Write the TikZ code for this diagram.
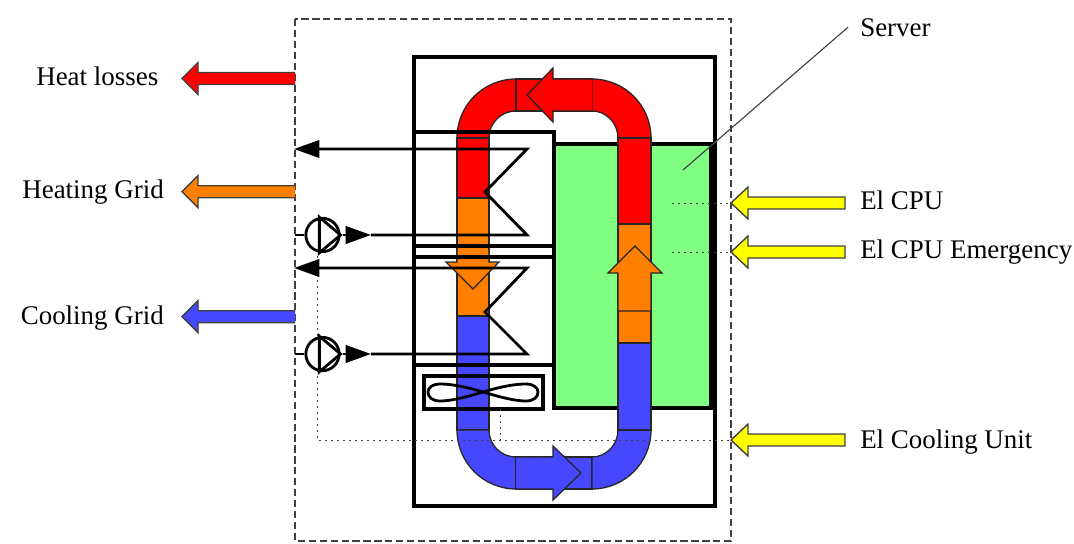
\documentclass[tikz,border=0pt]{standalone}
\usepackage{fontspec}
\setmainfont{Liberation Serif}
\usepackage{tikz}
\usetikzlibrary{arrows.meta,calc}
\definecolor{ductred}{HTML}{FF0000}
\definecolor{ductorange}{HTML}{FF8000}
\definecolor{ductblue}{HTML}{4747FF}
\definecolor{servergreen}{HTML}{80FF80}
\definecolor{elyellow}{HTML}{FFFF00}
\definecolor{linegrey}{HTML}{404040}

\begin{document}
\begin{tikzpicture}[
    x=0.75pt, y=-0.75pt,
    label/.style={inner sep=0pt, font=\fontsize{20.2}{24}\selectfont},
    frame/.style={draw=linegrey, line width=0.8pt, dash pattern=on 5.4pt off 2.8pt},
    wall/.style={draw=black, line width=2.3pt},
    duct/.style={draw=black!85, line width=0.95pt},
    flow/.style={draw=linegrey, line width=1.05pt},
    pipe/.style={draw=black, line width=2.1pt},
    pipetip/.style={-{Triangle[length=19pt, width=13pt]}, draw=black, line width=2.1pt},
    pump/.style={circle, draw=black, line width=2.1pt, fill=white, minimum size=25pt, inner sep=0pt},
    signal/.style={draw=linegrey, line width=0.75pt, dash pattern=on 1.5pt off 3pt},
    leader/.style={draw=linegrey, line width=0.85pt}
]
    \useasboundingbox (0,0) rectangle (1074,543);

    \draw[frame] (295,19) rectangle (731,541);
    \draw[wall] (414,57) rectangle (715,506);
    \draw[wall, fill=servergreen] (554,144) rectangle (711,408);

    % ducts
    \draw[duct, fill=ductred] (457,138) .. controls (457,105.4) and (483.4,79) .. (516,79) -- (516,111) .. controls (501,111) and (489,123) .. (489,138) -- cycle;
    \draw[duct, fill=ductred] (516,79) rectangle (592,111);
    \draw[duct, fill=ductred] (592,79) .. controls (624.6,79) and (651,105.4) .. (651,138) -- (618,138) .. controls (618,123) and (606,111) .. (592,111) -- cycle;
    \draw[duct, fill=ductred] (457,138) rectangle (489,198);
    \draw[duct, fill=ductorange] (457,198) rectangle (489,316);
    \draw[duct, fill=ductblue] (457,316) rectangle (489,430);
    \draw[duct, fill=ductblue] (457,430) .. controls (457,462.6) and (483.4,489) .. (516,489) -- (516,457) .. controls (501,457) and (489,445) .. (489,430) -- cycle;
    \draw[duct, fill=ductblue] (516,457) rectangle (592,489);
    \draw[duct, fill=ductblue] (592,489) .. controls (624.6,489) and (651,462.6) .. (651,430) -- (618,430) .. controls (618,445) and (606,457) .. (592,457) -- cycle;
    \draw[duct, fill=ductblue] (618,343) rectangle (651,430);
    \draw[duct, fill=ductorange] (618,224) rectangle (651,343);
    \draw[duct, fill=ductred] (618,138) rectangle (651,224);

    \draw[duct, fill=ductred] (592,111) -- (553,111) -- (553,122) -- (527,95) -- (553,68) -- (553,79) -- (592,79);
    \draw[duct, fill=ductblue] (516,457) -- (553,457) -- (553,446) -- (581,473) -- (553,500) -- (553,489) -- (516,489);
    \draw[duct, fill=ductorange] (618,311) -- (618,273) -- (608,273) -- (635,246) -- (662,273) -- (651,273) -- (651,311) -- cycle;
    \draw[duct, fill=ductorange] (457,250) -- (457,262) -- (446,262) -- (473,289) -- (499,262) -- (489,262) -- (489,250);

    \draw[wall] (414,132) rectangle (554,246);
    \draw[wall] (414,257) rectangle (554,365);
    \draw[wall] (424,376) rectangle (543,409);
    \draw[pipe] (483,392) .. controls (503,386) and (516,384) .. (526,384) .. controls (534,384) and (538,388) .. (538,392) .. controls (538,397) and (534,401) .. (526,401) .. controls (516,401) and (503,398) .. (483,392) .. controls (463,386) and (450,384) .. (440,384) .. controls (432,384) and (428,388) .. (428,392) .. controls (428,397) and (432,401) .. (440,401) .. controls (450,401) and (463,398) .. (483,392) -- cycle;

    \coordinate (cpu) at (731,203);
    \coordinate (emergency) at (731,252);
    \coordinate (coolunit) at (731,440);
    \draw[signal] (672,203) -- (cpu);
    \draw[signal] (672,252) -- (emergency);
    \draw[signal] (317,250) -- (317,440) -- (coolunit);
    \draw[signal] (500,409) -- (500,440);

    \foreach \i/\ya/\yb/\yc in {1/149/192/235, 2/268/312/354} {
        \coordinate (hot\i) at (294,\ya);
        \coordinate (cold\i) at (295,\yc);
        \coordinate (base\i) at (343,\yc);
        \coordinate (tip\i) at (371,\yc);
        \node[pump] (pump\i) at (322.5,\yc) {};
        \draw[pipe] (cold\i) -- (pump\i.west);
        \draw[pipe] (pump\i.100) -- (pump\i.260) -- (pump\i.east) -- cycle;
        \draw[pipetip] (base\i) -- (tip\i);
        \draw[pipetip] (tip\i) -- (527,\yc) -- (485,\yb) -- (527,\ya) -- (hot\i);
    }

    \foreach \y/\col in {78.5/ductred, 191.7/ductorange, 316.7/ductblue} {
        \draw[flow, fill=\col] (295,\y-6) -- (198,\y-6) -- (198,\y-16) -- (182,\y) -- (198,\y+16) -- (198,\y+6) -- (295,\y+6);
    }
    \foreach \y in {203,252,440} {
        \draw[flow, fill=elyellow] (731,\y) -- (748,\y-16) -- (748,\y-6) -- (845,\y-6) -- (845,\y+6) -- (748,\y+6) -- (748,\y+16) -- cycle;
    }

    \node[label, anchor=base east] (heatlosses) at (158.5,85) {Heat losses};
    \node[label, anchor=base east] (heating) at (164,198) {Heating Grid};
    \node[label, anchor=base east] (cooling) at (164,324) {Cooling Grid};
    \node[label, anchor=base west] (server) at (860,36) {Server};
    \node[label, anchor=base west] (elcpu) at (860,209) {El CPU};
    \node[label, anchor=base west] (elemergency) at (860,258.5) {El CPU Emergency};
    \node[label, anchor=base west] (elcooling) at (860,448) {El Cooling Unit};

    \coordinate (leaderfoot) at (683,170);
    \draw[leader] (leaderfoot) -- ([xshift=-9pt]server.west);
\end{tikzpicture}
\end{document}
